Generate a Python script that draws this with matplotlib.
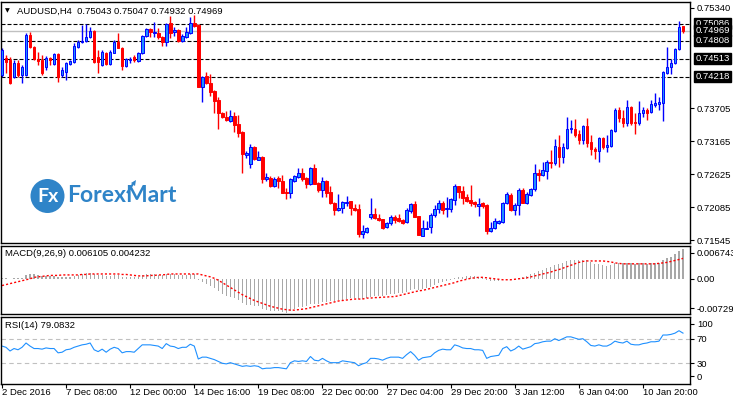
import matplotlib
matplotlib.use("Agg")
import matplotlib.pyplot as plt
from matplotlib.patches import Ellipse
import numpy as np

# AUDUSD H4 candles
opens = [0.7424, 0.7452, 0.7449, 0.7421, 0.7444, 0.7424, 0.7424, 0.7490, 0.7470, 0.7451,
         0.7449, 0.7438, 0.7452, 0.7442, 0.7459, 0.7424, 0.7429, 0.7442, 0.7446, 0.7470,
         0.7478, 0.7480, 0.7487, 0.7496, 0.7454, 0.7441, 0.7460, 0.7442, 0.7460, 0.7478,
         0.7469, 0.7439, 0.7449, 0.7454, 0.7447, 0.7460, 0.7488, 0.7500, 0.7493, 0.7493,
         0.7487, 0.7478, 0.7509, 0.7495, 0.7498, 0.7480, 0.7487, 0.7493, 0.7509, 0.7506,
         0.7405, 0.7423, 0.7411, 0.7398, 0.7384, 0.7362, 0.7356, 0.7349, 0.7357, 0.7344,
         0.7331, 0.7293, 0.7279, 0.7306, 0.7285, 0.7290, 0.7254, 0.7256, 0.7243, 0.7256,
         0.7251, 0.7233, 0.7231, 0.7251, 0.7257, 0.7265, 0.7256, 0.7246, 0.7272, 0.7248,
         0.7236, 0.7251, 0.7233, 0.7215, 0.7204, 0.7207, 0.7215, 0.7218, 0.7207, 0.7205,
         0.7164, 0.7167, 0.7192, 0.7197, 0.7190, 0.7189, 0.7176, 0.7182, 0.7192, 0.7190,
         0.7187, 0.7184, 0.7202, 0.7213, 0.7194, 0.7161, 0.7172, 0.7176, 0.7195, 0.7205,
         0.7215, 0.7205, 0.7205, 0.7220, 0.7243, 0.7234, 0.7225, 0.7220, 0.7217, 0.7210,
         0.7215, 0.7212, 0.7169, 0.7174, 0.7182, 0.7184, 0.7215, 0.7228, 0.7204, 0.7212,
         0.7236, 0.7215, 0.7228, 0.7238, 0.7264, 0.7261, 0.7267, 0.7282, 0.7280, 0.7306,
         0.7290, 0.7305, 0.7336, 0.7336, 0.7328, 0.7318, 0.7341, 0.7315, 0.7303, 0.7300,
         0.7321, 0.7306, 0.7308, 0.7333, 0.7367, 0.7354, 0.7346, 0.7372, 0.7348, 0.7346,
         0.7362, 0.7367, 0.7364, 0.7375, 0.7377, 0.7379, 0.7428, 0.7438, 0.7444, 0.7467,
         0.75043]
highs = [0.7469, 0.7457, 0.7454, 0.7449, 0.7449, 0.7441, 0.7493, 0.7495, 0.7472, 0.7462,
         0.7457, 0.7456, 0.7454, 0.7460, 0.7460, 0.7438, 0.7446, 0.7449, 0.7477, 0.7482,
         0.7506, 0.7508, 0.7503, 0.7498, 0.7465, 0.7465, 0.7462, 0.7465, 0.7482, 0.7493,
         0.7470, 0.7452, 0.7454, 0.7457, 0.7462, 0.7490, 0.7501, 0.7501, 0.7511, 0.7501,
         0.7488, 0.7509, 0.7521, 0.7503, 0.7500, 0.7491, 0.7503, 0.7519, 0.7522, 0.7508,
         0.7423, 0.7429, 0.7426, 0.7400, 0.7388, 0.7364, 0.7366, 0.7367, 0.7364, 0.7359,
         0.7333, 0.7300, 0.7311, 0.7308, 0.7300, 0.7292, 0.7264, 0.7259, 0.7257, 0.7259,
         0.7261, 0.7239, 0.7256, 0.7261, 0.7272, 0.7272, 0.7257, 0.7274, 0.7279, 0.7249,
         0.7257, 0.7253, 0.7243, 0.7217, 0.7230, 0.7218, 0.7226, 0.7218, 0.7213, 0.7213,
         0.7179, 0.7176, 0.7223, 0.7207, 0.7197, 0.7189, 0.7184, 0.7195, 0.7195, 0.7197,
         0.7189, 0.7207, 0.7215, 0.7218, 0.7194, 0.7187, 0.7185, 0.7199, 0.7212, 0.7220,
         0.7218, 0.7225, 0.7223, 0.7246, 0.7243, 0.7243, 0.7230, 0.7244, 0.7218, 0.7223,
         0.7217, 0.7213, 0.7184, 0.7190, 0.7187, 0.7217, 0.7233, 0.7231, 0.7215, 0.7239,
         0.7239, 0.7233, 0.7239, 0.7279, 0.7270, 0.7282, 0.7285, 0.7302, 0.7320, 0.7326,
         0.7313, 0.7356, 0.7351, 0.7353, 0.7334, 0.7343, 0.7354, 0.7326, 0.7306, 0.7323,
         0.7323, 0.7326, 0.7336, 0.7371, 0.7372, 0.7367, 0.7384, 0.7374, 0.7362, 0.7382,
         0.7372, 0.7371, 0.7384, 0.7395, 0.7388, 0.7431, 0.7470, 0.7451, 0.7469, 0.7513,
         0.75047]
lows = [0.7421, 0.7428, 0.7410, 0.7420, 0.7421, 0.7411, 0.7423, 0.7469, 0.7449, 0.7441,
        0.7424, 0.7433, 0.7441, 0.7441, 0.7413, 0.7421, 0.7416, 0.7441, 0.7444, 0.7469,
        0.7477, 0.7478, 0.7485, 0.7444, 0.7428, 0.7439, 0.7441, 0.7441, 0.7460, 0.7469,
        0.7433, 0.7438, 0.7444, 0.7446, 0.7446, 0.7459, 0.7487, 0.7487, 0.7487, 0.7483,
        0.7472, 0.7472, 0.7485, 0.7488, 0.7478, 0.7478, 0.7485, 0.7491, 0.7503, 0.7405,
        0.7380, 0.7410, 0.7390, 0.7362, 0.7336, 0.7354, 0.7349, 0.7348, 0.7331, 0.7323,
        0.7264, 0.7288, 0.7272, 0.7285, 0.7285, 0.7248, 0.7251, 0.7241, 0.7241, 0.7239,
        0.7231, 0.7221, 0.7223, 0.7249, 0.7256, 0.7251, 0.7239, 0.7244, 0.7246, 0.7233,
        0.7225, 0.7225, 0.7213, 0.7195, 0.7202, 0.7199, 0.7210, 0.7195, 0.7202, 0.7160,
        0.7158, 0.7166, 0.7189, 0.7189, 0.7185, 0.7172, 0.7174, 0.7179, 0.7182, 0.7184,
        0.7181, 0.7182, 0.7199, 0.7192, 0.7163, 0.7161, 0.7172, 0.7166, 0.7192, 0.7199,
        0.7197, 0.7192, 0.7200, 0.7212, 0.7223, 0.7213, 0.7217, 0.7210, 0.7208, 0.7194,
        0.7207, 0.7164, 0.7167, 0.7172, 0.7181, 0.7182, 0.7213, 0.7202, 0.7195, 0.7195,
        0.7215, 0.7213, 0.7226, 0.7234, 0.7251, 0.7259, 0.7254, 0.7272, 0.7277, 0.7274,
        0.7280, 0.7303, 0.7329, 0.7323, 0.7311, 0.7311, 0.7306, 0.7293, 0.7287, 0.7283,
        0.7303, 0.7298, 0.7306, 0.7331, 0.7348, 0.7339, 0.7341, 0.7343, 0.7328, 0.7343,
        0.7356, 0.7351, 0.7362, 0.7372, 0.7367, 0.7349, 0.7426, 0.7426, 0.7442, 0.7465,
        0.74932]
closes = [0.7465, 0.7446, 0.7411, 0.7444, 0.7424, 0.7438, 0.7490, 0.7470, 0.7451, 0.7447,
          0.7428, 0.7452, 0.7449, 0.7459, 0.7421, 0.7433, 0.7444, 0.7447, 0.7472, 0.7478,
          0.7480, 0.7487, 0.7496, 0.7446, 0.7446, 0.7462, 0.7442, 0.7462, 0.7478, 0.7469,
          0.7439, 0.7451, 0.7451, 0.7449, 0.7460, 0.7488, 0.7500, 0.7495, 0.7495, 0.7487,
          0.7478, 0.7508, 0.7493, 0.7498, 0.7480, 0.7488, 0.7495, 0.7509, 0.7505, 0.7405,
          0.7421, 0.7411, 0.7397, 0.7382, 0.7362, 0.7356, 0.7351, 0.7357, 0.7343, 0.7329,
          0.7295, 0.7297, 0.7306, 0.7287, 0.7290, 0.7254, 0.7257, 0.7243, 0.7254, 0.7251,
          0.7231, 0.7231, 0.7254, 0.7259, 0.7265, 0.7254, 0.7246, 0.7272, 0.7246, 0.7236,
          0.7251, 0.7231, 0.7215, 0.7204, 0.7207, 0.7217, 0.7217, 0.7207, 0.7204, 0.7164,
          0.7169, 0.7174, 0.7197, 0.7190, 0.7187, 0.7174, 0.7182, 0.7192, 0.7187, 0.7185,
          0.7182, 0.7204, 0.7213, 0.7192, 0.7163, 0.7174, 0.7174, 0.7195, 0.7205, 0.7215,
          0.7204, 0.7207, 0.7221, 0.7243, 0.7233, 0.7223, 0.7218, 0.7215, 0.7213, 0.7213,
          0.7210, 0.7169, 0.7174, 0.7185, 0.7185, 0.7215, 0.7230, 0.7204, 0.7212, 0.7236,
          0.7215, 0.7230, 0.7238, 0.7264, 0.7261, 0.7269, 0.7282, 0.7280, 0.7308, 0.7290,
          0.7306, 0.7336, 0.7338, 0.7326, 0.7318, 0.7341, 0.7313, 0.7303, 0.7300, 0.7321,
          0.7306, 0.7310, 0.7334, 0.7367, 0.7354, 0.7346, 0.7372, 0.7346, 0.7346, 0.7362,
          0.7367, 0.7362, 0.7377, 0.7379, 0.7380, 0.7429, 0.7438, 0.7444, 0.7467, 0.7503,
          0.74969]

# MACD(9,26,9): histogram (main) and signal
macd_main = [0.0001, 0.0001, 0.0000, 0.0001, 0.0001, 0.0002, 0.0008, 0.0009, 0.0009, 0.0008,
             0.0006, 0.0006, 0.0006, 0.0006, 0.0004, 0.0003, 0.0004, 0.0004, 0.0006, 0.0008,
             0.0010, 0.0012, 0.0013, 0.0009, 0.0007, 0.0007, 0.0005, 0.0006, 0.0008, 0.0007,
             0.0004, 0.0004, 0.0003, 0.0003, 0.0004, 0.0007, 0.0009, 0.0009, 0.0009, 0.0008,
             0.0007, 0.0010, 0.0009, 0.0009, 0.0007, 0.0007, 0.0008, 0.0010, 0.0010, -0.0002,
             -0.0007, -0.0010, -0.0014, -0.0019, -0.0026, -0.0031, -0.0035, -0.0037, -0.0040, -0.0044,
             -0.0051, -0.0054, -0.0054, -0.0056, -0.0057, -0.0062, -0.0064, -0.0066, -0.0066, -0.0067,
             -0.0069, -0.0070, -0.0066, -0.0063, -0.0059, -0.0058, -0.0057, -0.0053, -0.0053, -0.0052,
             -0.0049, -0.0048, -0.0047, -0.0047, -0.0045, -0.0043, -0.0041, -0.0040, -0.0039, -0.0042,
             -0.0041, -0.0040, -0.0037, -0.0036, -0.0035, -0.0035, -0.0034, -0.0032, -0.0031, -0.0030,
             -0.0030, -0.0027, -0.0023, -0.0021, -0.0023, -0.0021, -0.0019, -0.0016, -0.0013, -0.0009,
             -0.0007, -0.0005, -0.0003, 0.0002, 0.0003, 0.0004, 0.0005, 0.0005, 0.0005, 0.0004,
             0.0003, -0.0002, -0.0004, -0.0005, -0.0005, -0.0003, -0.0001, -0.0002, -0.0001, 0.0001,
             0.0003, 0.0006, 0.0009, 0.0013, 0.0016, 0.0019, 0.0022, 0.0024, 0.0028, 0.0030,
             0.0032, 0.0036, 0.0038, 0.0039, 0.0039, 0.0040, 0.0038, 0.0034, 0.0031, 0.0031,
             0.0029, 0.0027, 0.0028, 0.0032, 0.0033, 0.0032, 0.0033, 0.0032, 0.0031, 0.0032,
             0.0032, 0.0031, 0.0032, 0.0032, 0.0032, 0.0039, 0.0043, 0.0046, 0.0051, 0.0057,
             0.006105]
macd_signal = [-0.0014, -0.0012, -0.0010, -0.0008, -0.0006, -0.0004, -0.0002, 0.0000, 0.0003, 0.0004,
               0.0005, 0.0006, 0.0007, 0.0007, 0.0007, 0.0008, 0.0008, 0.0008, 0.0008, 0.0008,
               0.0009, 0.0009, 0.0010, 0.0010, 0.0010, 0.0010, 0.0010, 0.0010, 0.0010, 0.0010,
               0.0009, 0.0009, 0.0008, 0.0007, 0.0006, 0.0006, 0.0006, 0.0007, 0.0007, 0.0008,
               0.0008, 0.0009, 0.0010, 0.0010, 0.0010, 0.0010, 0.0010, 0.0010, 0.0010, 0.0010,
               0.0008, 0.0006, 0.0004, 0.0001, -0.0003, -0.0008, -0.0013, -0.0018, -0.0023, -0.0028,
               -0.0033, -0.0037, -0.0041, -0.0045, -0.0048, -0.0051, -0.0054, -0.0057, -0.0059, -0.0061,
               -0.0063, -0.0064, -0.0065, -0.0065, -0.0064, -0.0063, -0.0062, -0.0060, -0.0058, -0.0056,
               -0.0054, -0.0052, -0.0050, -0.0048, -0.0046, -0.0045, -0.0044, -0.0043, -0.0042, -0.0042,
               -0.0042, -0.0040, -0.0040, -0.0039, -0.0039, -0.0038, -0.0038, -0.0037, -0.0037, -0.0035,
               -0.0033, -0.0031, -0.0029, -0.0027, -0.0025, -0.0024, -0.0022, -0.0020, -0.0018, -0.0016,
               -0.0014, -0.0012, -0.0010, -0.0008, -0.0005, -0.0003, -0.0001, 0.0001, 0.0002, 0.0003,
               0.0003, 0.0002, 0.0001, 0.0000, -0.0001, -0.0002, -0.0002, -0.0002, -0.0001, 0.0000,
               0.0001, 0.0002, 0.0004, 0.0006, 0.0008, 0.0010, 0.0012, 0.0014, 0.0017, 0.0019,
               0.0022, 0.0025, 0.0028, 0.0031, 0.0034, 0.0036, 0.0037, 0.0037, 0.0037, 0.0037,
               0.0037, 0.0036, 0.0035, 0.0033, 0.0032, 0.0031, 0.0031, 0.0031, 0.0031, 0.0031,
               0.0031, 0.0031, 0.0031, 0.0031, 0.0032, 0.0033, 0.0034, 0.0036, 0.0038, 0.0040,
               0.004232]

# RSI(14)
rsi = [58, 56, 50, 54, 52, 56, 63, 58, 54, 54,
       53, 55, 54, 54, 47, 48, 52, 53, 56, 58,
       60, 61, 63, 52, 49, 53, 48, 53, 56, 54,
       47, 49, 49, 48, 54, 60, 60, 60, 59, 58,
       54, 62, 58, 57, 54, 56, 56, 61, 58, 37,
       40, 40, 38, 36, 33, 30, 29, 31, 29, 27,
       25, 26, 25, 26, 25, 21, 22, 22, 23, 23,
       22, 21, 31, 34, 33, 34, 33, 41, 35, 34,
       38, 34, 31, 31, 31, 34, 33, 32, 31, 26,
       29, 31, 38, 38, 37, 35, 38, 40, 40, 40,
       38, 44, 49, 43, 35, 39, 40, 41, 47, 51,
       53, 52, 52, 60, 58, 55, 54, 54, 52, 52,
       51, 38, 41, 42, 43, 54, 57, 50, 53, 58,
       53, 55, 57, 62, 63, 65, 66, 66, 70, 67,
       70, 73, 73, 71, 69, 70, 65, 59, 58, 60,
       58, 58, 61, 66, 64, 63, 66, 61, 60, 60,
       62, 63, 65, 65, 66, 76, 76, 77, 79, 83,
       79.0832]

date_ticks = [0, 16, 32, 48, 64, 80, 96, 112, 128, 144, 160]
date_labels = ["2 Dec 2016", "7 Dec 08:00", "12 Dec 00:00", "14 Dec 16:00", "19 Dec 08:00",
               "22 Dec 00:00", "27 Dec 04:00", "29 Dec 20:00", "3 Jan 12:00", "6 Jan 04:00",
               "10 Jan 20:00"]

price_ticks = [0.75340, 0.73705, 0.73165, 0.72625, 0.72085, 0.71545]
levels = [0.75086, 0.74808, 0.74513, 0.74218]
bid = 0.74969

plt.rcParams['font.family'] = ['Liberation Sans', 'DejaVu Sans']
FS = 6.8
W, H = 733, 399


def rect(l, t, r, b):
    return [l / W, 1 - b / H, (r - l) / W, (b - t) / H]


fig = plt.figure(figsize=(W / 100, H / 100), dpi=100)
ax = fig.add_axes(rect(1, 2, 690, 243))
ax_m = fig.add_axes(rect(1, 246, 690, 314))
ax_r = fig.add_axes(rect(1, 317, 690, 384))

x = np.arange(len(closes))
o = np.array(opens)
c = np.array(closes)
bull = c >= o
edge = np.where(bull, '#0000FF', '#FF0000')
fill = np.where(bull, '#1E90FF', '#FF0000')

# candles
ax.vlines(x, lows, highs, colors=edge, linewidth=1, zorder=2)
ax.bar(x, np.maximum(np.abs(c - o), 0.00002), bottom=np.minimum(o, c), width=0.65,
       color=fill, edgecolor=edge, linewidth=0.7, zorder=3)

for lv in levels:
    ax.axhline(lv, color='black', linewidth=0.8, linestyle=(0, (3.6, 1.8)), zorder=1)
ax.axhline(bid, color='#C0C0C0', linewidth=1, zorder=1)

ax.set_xlim(-0.25, 171.75)
ax.set_ylim(0.71498, 0.75438)
ax.set_xticks([])
ax.yaxis.tick_right()
ax.set_yticks(price_ticks)
ax.set_yticklabels(["%.5f" % p for p in price_ticks], fontsize=FS)
ax.tick_params(axis='y', direction='out', length=3, width=0.8, pad=2)

# boxed labels for the horizontal lines and the bid
for lv in levels + [bid]:
    ax.annotate("%.5f" % lv, xy=(1, lv), xycoords=('axes fraction', 'data'),
                xytext=(4, 0), textcoords='offset points', fontsize=FS, color='white',
                va='center', ha='left', annotation_clip=False,
                bbox=dict(boxstyle='square,pad=0.12', fc='black', ec='black'))

# MACD
ax_m.bar(x, macd_main, width=0.3, color='#A8A8A8', linewidth=0)
ax_m.plot(x, macd_signal, color='red', linewidth=1, linestyle=(0, (1.5, 1.5)))
ax_m.set_xlim(-0.25, 171.75)
ax_m.set_ylim(-0.0073, 0.0068)
ax_m.set_xticks([])
ax_m.yaxis.tick_right()
ax_m.set_yticks([0.00535, 0.0, -0.00606])
ax_m.set_yticklabels(["0.006743", "0.00", "-0.007295"], fontsize=FS)
ax_m.tick_params(axis='y', direction='out', length=3, width=0.8, pad=2)

# RSI
ax_r.axhline(70, color='#C0C0C0', linewidth=0.8, linestyle=(0, (4, 3)))
ax_r.axhline(30, color='#C0C0C0', linewidth=0.8, linestyle=(0, (4, 3)))
ax_r.plot(x, rsi, color='#1E90FF', linewidth=0.8)
ax_r.set_xlim(-0.25, 171.75)
ax_r.set_ylim(-3.7, 105.3)
ax_r.yaxis.tick_right()
ax_r.set_yticks([94, 70, 30, 9])
ax_r.set_yticklabels(["100", "70", "30", "0"], fontsize=FS)
ax_r.tick_params(axis='y', direction='out', length=3, width=0.8, pad=2)
ax_r.set_xticks(date_ticks)
ax_r.set_xticklabels(date_labels, fontsize=FS, ha='left')
ax_r.tick_params(axis='x', direction='out', length=3, width=0.8, pad=0)

for a in (ax, ax_m, ax_r):
    for s in a.spines.values():
        s.set_linewidth(1)
        s.set_color('black')

# panel captions
fig.text(5 / W, 1 - 11 / H, "\u25bc", fontsize=4.5, va='center', ha='left', family='DejaVu Sans')
fig.text(17 / W, 1 - 11 / H, "AUDUSD,H4  0.75043 0.75047 0.74932 0.74969", fontsize=FS, va='center')
fig.text(5 / W, 1 - 254 / H, "MACD(9,26,9) 0.006105 0.004232", fontsize=FS, va='center')
fig.text(5 / W, 1 - 326 / H, "RSI(14) 79.0832", fontsize=FS, va='center')

# ForexMart watermark
logo_blue = '#2F84C8'
fig.patches.append(Ellipse((47.5 / W, 1 - 196 / H), 34 / W, 34 / H, transform=fig.transFigure,
                           facecolor=logo_blue, edgecolor='none'))
fig.text(47.5 / W, 1 - 197 / H, "Fx", fontsize=14, color='white', fontweight='bold',
         va='center', ha='center', family='Lato')
fig.text(67 / W, 1 - 196 / H, "ForexMart", fontsize=16.5, color=logo_blue, fontweight='bold',
         va='center', ha='left', family='Lato')
fig.patches.append(plt.Polygon([(127 / W, 1 - 193 / H), (133 / W, 1 - 184 / H)], closed=False,
                               transform=fig.transFigure, edgecolor=logo_blue, linewidth=1.5,
                               fill=False))
fig.patches.append(plt.Polygon([(131 / W, 1 - 183 / H), (136 / W, 1 - 180 / H), (135 / W, 1 - 186 / H)],
                               transform=fig.transFigure, facecolor=logo_blue, edgecolor='none'))

fig.savefig("out.png", dpi=100)
